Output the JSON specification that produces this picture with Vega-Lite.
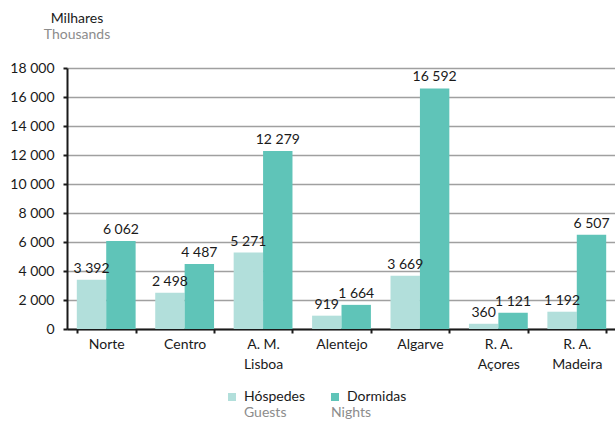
{
  "$schema": "https://vega.github.io/schema/vega-lite/v6.json",
  "width": 549,
  "height": 261,
  "autosize": {"type": "none"},
  "padding": {"left": 67, "top": 68, "right": 0, "bottom": 92},
  "background": "white",
  "title": {
    "text": "Milhares",
    "subtitle": "Thousands",
    "anchor": "start",
    "align": "center",
    "frame": "group",
    "dx": 10,
    "offset": 19,
    "font": "Lato",
    "fontSize": 14,
    "fontWeight": "normal",
    "color": "#1a1a1a",
    "subtitleFont": "Lato",
    "subtitleFontSize": 14,
    "subtitleColor": "#8c8c8c",
    "subtitlePadding": 2
  },
  "data": {
    "values": [
      {"region": "Norte", "serie": "Hóspedes", "en": "Guests", "value": 3392},
      {"region": "Norte", "serie": "Dormidas", "en": "Nights", "value": 6062},
      {"region": "Centro", "serie": "Hóspedes", "en": "Guests", "value": 2498},
      {"region": "Centro", "serie": "Dormidas", "en": "Nights", "value": 4487},
      {"region": "A. M. Lisboa", "serie": "Hóspedes", "en": "Guests", "value": 5271},
      {"region": "A. M. Lisboa", "serie": "Dormidas", "en": "Nights", "value": 12279},
      {"region": "Alentejo", "serie": "Hóspedes", "en": "Guests", "value": 919},
      {"region": "Alentejo", "serie": "Dormidas", "en": "Nights", "value": 1664},
      {"region": "Algarve", "serie": "Hóspedes", "en": "Guests", "value": 3669},
      {"region": "Algarve", "serie": "Dormidas", "en": "Nights", "value": 16592},
      {"region": "R. A. Açores", "serie": "Hóspedes", "en": "Guests", "value": 360},
      {"region": "R. A. Açores", "serie": "Dormidas", "en": "Nights", "value": 1121},
      {"region": "R. A. Madeira", "serie": "Hóspedes", "en": "Guests", "value": 1192},
      {"region": "R. A. Madeira", "serie": "Dormidas", "en": "Nights", "value": 6507}
    ]
  },
  "encoding": {
    "x": {
      "field": "region",
      "type": "nominal",
      "sort": null,
      "scale": {"paddingInner": 0.25, "paddingOuter": 0.125},
      "axis": {
        "title": null,
        "labelAngle": 0,
        "tickBand": "extent",
        "tickSize": 4,
        "tickColor": "#1a1a1a",
        "tickWidth": 2,
        "domainColor": "#1a1a1a",
        "domainWidth": 2,
        "labelPadding": 4,
        "labelLineHeight": 20,
        "labelExpr": "indexof(datum.label, '. ') > 0 ? [substring(datum.label, 0, lastindexof(datum.label, ' ')), substring(datum.label, lastindexof(datum.label, ' ') + 1)] : datum.label"
      }
    },
    "xOffset": {"field": "serie", "type": "nominal", "sort": ["Hóspedes", "Dormidas"], "scale": {"paddingInner": 0, "paddingOuter": 0}},
    "y": {
      "field": "value",
      "type": "quantitative",
      "scale": {"domain": [0, 18000], "nice": false},
      "axis": {
        "title": null,
        "values": [0, 2000, 4000, 6000, 8000, 10000, 12000, 14000, 16000, 18000],
        "format": ",d",
        "grid": true,
        "gridColor": "#a0a0a0",
        "gridWidth": 1.5,
        "tickSize": 4,
        "tickColor": "#1a1a1a",
        "tickWidth": 2,
        "domainColor": "#1a1a1a",
        "domainWidth": 2,
        "labelPadding": 9
      }
    }
  },
  "layer": [
    {
      "mark": {"type": "bar"},
      "encoding": {
        "color": {
          "field": "serie",
          "type": "nominal",
          "sort": ["Hóspedes", "Dormidas"],
          "scale": {"domain": ["Hóspedes", "Dormidas"], "range": ["#b2dfdb", "#5fc4b8"]},
          "legend": {
            "title": null,
            "orient": "none",
            "direction": "horizontal",
            "legendX": 158,
            "legendY": 322,
            "symbolType": "square",
            "symbolSize": 64,
            "symbolStrokeWidth": 0,
            "labelOffset": 5,
            "columnPadding": 22,
            "labelColor": "#1a1a1a"
          }
        }
      }
    },
    {
      "mark": {"type": "point", "opacity": 0},
      "encoding": {
        "shape": {
          "field": "en",
          "type": "nominal",
          "scale": {"domain": ["Guests", "Nights"], "range": ["square", "square"]},
          "legend": {
            "title": null,
            "orient": "none",
            "direction": "horizontal",
            "legendX": 158,
            "legendY": 338,
            "symbolSize": 64,
            "symbolOpacity": 0,
            "labelOffset": 5,
            "columnPadding": 25,
            "labelColor": "#8c8c8c"
          }
        }
      }
    },
    {
      "mark": {"type": "text", "baseline": "alphabetic", "dy": -7, "color": "#1a1a1a"},
      "encoding": {
        "text": {"field": "value", "type": "quantitative", "format": ",d"}
      }
    }
  ],
  "config": {
    "locale": {"number": {"decimal": ",", "thousands": " ", "grouping": [3], "currency": ["", " €"]}},
    "font": "Lato",
    "view": {"stroke": null},
    "axis": {"labelFont": "Lato", "labelFontSize": 14, "labelColor": "#1a1a1a"},
    "legend": {"labelFont": "Lato", "labelFontSize": 14, "padding": 0},
    "text": {"font": "Lato", "fontSize": 14},
    "title": {"fontWeight": "normal"}
  }
}
